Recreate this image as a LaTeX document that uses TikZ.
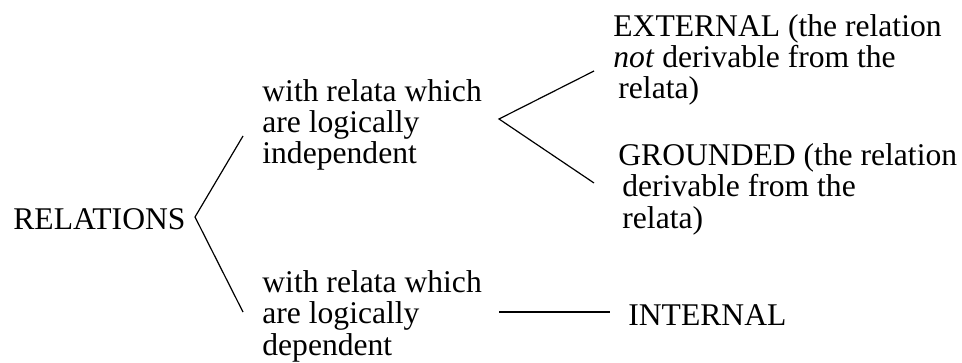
\documentclass[tikz,border=0pt]{standalone}
\usepackage{fontspec}
\setmainfont{Liberation Serif}

\begin{document}
\begin{tikzpicture}[x=0.5pt,y=-0.5pt,
    txt/.style={anchor=base west, inner sep=0pt, align=left,
      font=\fontsize{15.8}{15.6}\selectfont},
    branch/.style={line width=0.6pt}]
    \useasboundingbox (0,0) rectangle (962,363);
    \node[txt] (relations) at (13,229) {RELATIONS};
    \node[txt] (indep) at (262,164) {with relata which\\are logically\\independent};
    \node[txt] (dep) at (262,355) {with relata which\\are logically\\dependent};
    \node[txt] (external) at (613,99) {EXTERNAL (the relation\\\textit{not} derivable from the\\\hspace{2.5pt}relata)};
    \node[txt] (grounded) at (618,228) {GROUNDED (the relation\\\hspace{2pt}derivable from the\\\hspace{2pt}relata)};
    \node[txt] (internal) at (628,325) {INTERNAL};
    \coordinate (relfork) at (195,217);
    \coordinate (independ) at (243,136);
    \coordinate (dependend) at (243,312);
    \coordinate (indepfork) at (499,119);
    \coordinate (extend) at (594,71);
    \coordinate (grndend) at (594,183);
    \coordinate (depstart) at (499,312);
    \coordinate (intend) at (610,312);
    \draw[branch] (independ) -- (relfork) -- (dependend);
    \draw[branch] (extend) -- (indepfork) -- (grndend);
    \draw[branch] (depstart) -- (intend);
\end{tikzpicture}
\end{document}
